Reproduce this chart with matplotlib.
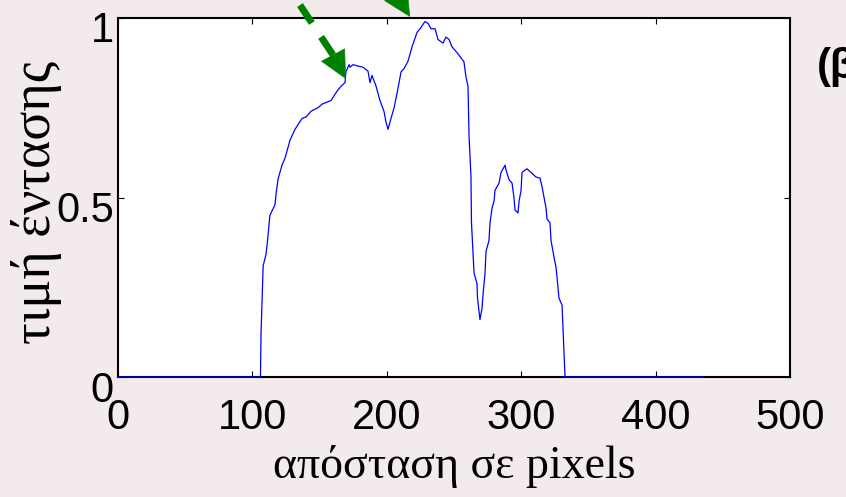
import numpy as np
import matplotlib
matplotlib.use("Agg")
import matplotlib.pyplot as plt
import matplotlib.transforms as mtransforms
from matplotlib.patches import FancyArrowPatch

# distance along the profile (pixels) and normalised intensity
dist = [0, 106, 106.4, 108, 110, 111, 113, 116.8, 117.6, 119, 122, 124.3, 128, 131.7,
        136.9, 140, 143.6, 146, 148.8, 151.8, 155, 158.5, 161, 163.7, 166, 168.9, 169.6,
        171.9, 172.6, 175, 178.6, 182.3, 186, 187.5, 189, 192, 194.9, 197.9, 199.4,
        200.9, 203.1, 205.4, 207.6, 210.6, 213, 215.8, 218.8, 222.5, 224.7, 228.4,
        230.7, 232.9, 235.9, 238.1, 241.8, 244, 246.3, 248.5, 253, 257.4, 258.9, 260.4,
        261.2, 262.6, 263, 264.9, 267.1, 267.5, 269.3, 270.8, 271.6, 273.1, 273.8, 276,
        276.8, 278.3, 279.8, 280.5, 282, 283.5, 285, 288, 288.7, 290.9, 293.2, 294.6,
        295.4, 297.6, 298.4, 299.9, 300.6, 304.3, 307.3, 311, 314, 315.5, 318.5, 319.2,
        321.4, 322.2, 324.4, 325.9, 326.6, 328.1, 330.4, 332.6, 436]
intensity = [0, 0, 0.12, 0.31, 0.34, 0.37, 0.45, 0.48, 0.51, 0.55, 0.59, 0.61, 0.66, 0.69,
             0.72, 0.725, 0.74, 0.745, 0.75, 0.76, 0.765, 0.77, 0.785, 0.80, 0.81, 0.82, 0.85,
             0.87, 0.863, 0.87, 0.866, 0.863, 0.852, 0.82, 0.84, 0.81, 0.77, 0.74, 0.71,
             0.69, 0.72, 0.75, 0.79, 0.85, 0.86, 0.88, 0.92, 0.96, 0.97, 0.99,
             0.985, 0.97, 0.97, 0.94, 0.93, 0.947, 0.94, 0.92, 0.90, 0.878, 0.836, 0.81,
             0.67, 0.56, 0.43, 0.29, 0.26, 0.22, 0.16, 0.19, 0.23, 0.29, 0.35, 0.38,
             0.43, 0.47, 0.49, 0.52, 0.53, 0.54, 0.57, 0.59, 0.577, 0.55, 0.54, 0.50,
             0.465, 0.457, 0.49, 0.52, 0.57, 0.58, 0.57, 0.557, 0.554, 0.53, 0.47, 0.44,
             0.43, 0.38, 0.334, 0.306, 0.28, 0.22, 0.20, 0, 0]

xticks = [0, 100, 200, 300, 400, 500]
yticks = [0, 0.5, 1]
ytick_labels = ["0", "0.5", "1"]

bg = "#f3eaeb"
green = "#008000"

fig = plt.figure(figsize=(8.46, 4.97), dpi=100, facecolor=bg)
ax = fig.add_axes([0.1395, 0.2414, 0.7943, 0.7224])
ax.set_facecolor("white")

ax.plot(dist, intensity, color="blue", lw=0.9, clip_on=False, zorder=3)

ax.set_xlim(0, 500)
ax.set_ylim(0, 1)
ax.set_xticks(xticks)
ax.set_yticks(yticks)
ax.set_yticklabels(ytick_labels)
for s in ax.spines.values():
    s.set_linewidth(1.5)
ax.tick_params(direction="in", length=4, width=0.8, top=True, right=True,
               labelsize=30, pad=3)
ax.tick_params(axis="x", pad=15)
for lab in ax.get_xticklabels() + ax.get_yticklabels():
    lab.set_fontfamily("Liberation Sans")
# matlab-style labels sit a bit low
off = mtransforms.ScaledTranslation(0, -0.09, fig.dpi_scale_trans)
for lab in ax.get_yticklabels():
    lab.set_transform(lab.get_transform() + off)

ax.set_xlabel("απόσταση σε pixels", fontfamily="Liberation Serif", fontsize=33)
ax.xaxis.set_label_coords(0.5, -0.19)
ax.set_ylabel("τιμή έντασης", fontfamily="Liberation Serif", fontsize=39)
ax.yaxis.set_label_coords(-0.083, 0.487)

# green dashed arrows
ax.plot([135.4, 160.0], [1.036, 0.897], color=green, lw=5, dashes=(3.1, 2.4),
        solid_capstyle="butt", dash_capstyle="butt", clip_on=False, zorder=5)
for base, tip in [((160.0, 0.897), (169.6, 0.830)), ((206.8, 1.067), (217.3, 1.003))]:
    head = FancyArrowPatch(base, tip, arrowstyle="-|>,head_length=19,head_width=9.4",
                           mutation_scale=1, shrinkA=0, shrinkB=0, color=green,
                           lw=0.5, clip_on=False, zorder=5)
    ax.add_patch(head)

fig.text(817 / 846, 1 - 67 / 497, "(β)", fontsize=30, fontweight="bold",
         fontfamily="Liberation Sans", ha="left", va="center")

fig.savefig("out.png", dpi=100, facecolor=bg)
